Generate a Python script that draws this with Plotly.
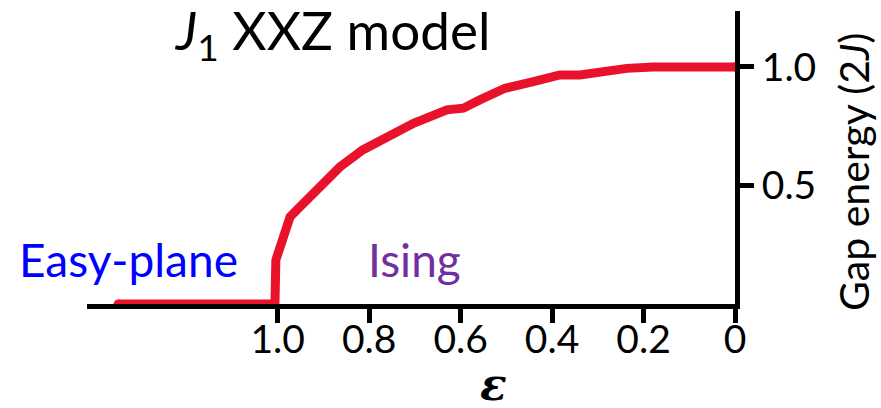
import plotly.graph_objects as go

# Gap energy (units of 2J) versus anisotropy epsilon for the J1 XXZ chain
eps = [1.349, 1.006, 1.004, 0.988, 0.973, 0.958, 0.930, 0.893, 0.864, 0.814,
       0.754, 0.703, 0.630, 0.594, 0.558, 0.503, 0.441, 0.383, 0.339, 0.281,
       0.237, 0.179, 0.0]
gap = [0.0, 0.0, 0.186, 0.283, 0.367, 0.397, 0.451, 0.523, 0.578, 0.650,
       0.713, 0.762, 0.819, 0.826, 0.861, 0.910, 0.938, 0.966, 0.966, 0.984,
       0.994, 1.0, 1.0]

x_ticks = [1.0, 0.8, 0.6, 0.4, 0.2, 0.0]
x_tick_text = ["1.0", "0.8", "0.6", "0.4", "0.2", "0"]
y_ticks = [0.5, 1.0]
y_tick_text = ["0.5", "1.0"]

W, H = 881, 408
L, R, T, B = 87, 146, 11, 104
FONT = "Lato"
RED = "#E8132B"


def px(xp):
    return (xp - L) / (W - L - R)


def py(yp):
    return (H - B - yp) / (H - B - T)


fig = go.Figure()
fig.add_trace(go.Scatter(
    x=eps, y=gap, mode="lines",
    line=dict(color=RED, width=9),
    cliponaxis=False, hoverinfo="skip",
))
# rounded line ends
fig.add_trace(go.Scatter(
    x=[eps[0], eps[-1]], y=[gap[0], gap[-1]], mode="markers",
    marker=dict(color=RED, size=9, line=dict(width=0)),
    cliponaxis=False, hoverinfo="skip",
))

fig.update_layout(
    width=W, height=H,
    margin=dict(l=L, r=R, t=T, b=B, pad=0),
    paper_bgcolor="white", plot_bgcolor="white",
    showlegend=False,
    font=dict(family=FONT, color="black"),
    xaxis=dict(
        range=[1.417, 0.0], showgrid=False, zeroline=False,
        showline=True, linecolor="black", linewidth=5,
        ticks="outside", ticklen=14, tickwidth=5, tickcolor="black",
        tickvals=x_ticks, ticktext=x_tick_text, ticklabelstandoff=-17,
        tickfont=dict(family=FONT, size=39, color="black"),
    ),
    yaxis=dict(
        range=[0.0, 1.236], side="right", showgrid=False, zeroline=False,
        showline=True, linecolor="black", linewidth=5,
        ticks="outside", ticklen=14, tickwidth=5, tickcolor="black",
        tickvals=y_ticks, ticktext=y_tick_text,
        tickfont=dict(family=FONT, size=39, color="black"),
    ),
    annotations=[
        dict(text="<i>J</i><sub>1</sub> XXZ model", x=px(173), y=py(33),
             xref="paper", yref="paper", xanchor="left", yanchor="middle",
             showarrow=False, font=dict(family=FONT, size=53, color="black")),
        dict(text="Easy-plane", x=px(17), y=py(259),
             xref="paper", yref="paper", xanchor="left", yanchor="middle",
             showarrow=False, font=dict(family=FONT, size=46, color="#0000FF")),
        dict(text="Ising", x=px(366), y=py(259),
             xref="paper", yref="paper", xanchor="left", yanchor="middle",
             showarrow=False, font=dict(family=FONT, size=46, color="#7030A0")),
        dict(text="<b><i>ε</i></b>", x=px(493), y=py(384),
             xref="paper", yref="paper", xanchor="center", yanchor="middle",
             showarrow=False, font=dict(family="DejaVu Serif", size=44, color="black")),
        dict(text="Gap energy (2<i>J</i>)", x=px(853), y=py(172),
             xref="paper", yref="paper", xanchor="center", yanchor="middle",
             textangle=-90, showarrow=False,
             font=dict(family=FONT, size=41, color="black")),
    ],
)

fig.write_html("out.html")
